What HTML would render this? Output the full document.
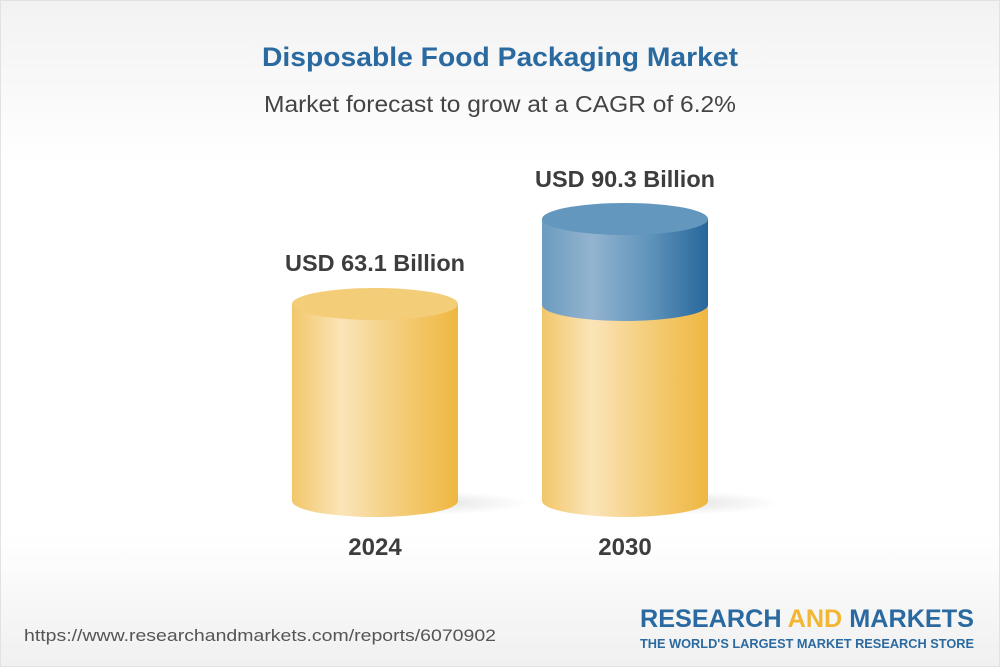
<!DOCTYPE html>
<html><head><style>
body{margin:0;width:1000px;height:667px;overflow:hidden;font-family:"Liberation Sans",Arial,sans-serif}
</style></head><body>
<svg width="1000" height="667" viewBox="0 0 1000 667" xmlns="http://www.w3.org/2000/svg">
<defs>
<linearGradient id="bg" x1="0" y1="0" x2="0" y2="1">
<stop offset="0" stop-color="#f2f2f2"/><stop offset="0.25" stop-color="#ffffff"/><stop offset="0.8" stop-color="#ffffff"/><stop offset="1" stop-color="#f0f0f0"/>
</linearGradient>
<linearGradient id="gold" x1="0" y1="0" x2="1" y2="0">
<stop offset="0" stop-color="#f2c76a"/><stop offset="0.3" stop-color="#fae4b8"/><stop offset="0.65" stop-color="#f4cc78"/><stop offset="1" stop-color="#efb740"/>
</linearGradient>
<linearGradient id="blue" x1="0" y1="0" x2="1" y2="0">
<stop offset="0" stop-color="#6b9bc0"/><stop offset="0.3" stop-color="#93b4cf"/><stop offset="0.65" stop-color="#5f93bb"/><stop offset="1" stop-color="#26679b"/>
</linearGradient>
<radialGradient id="sh" cx="0.5" cy="0.5" r="0.5">
<stop offset="0" stop-color="#000" stop-opacity="0.12"/><stop offset="1" stop-color="#000" stop-opacity="0"/>
</radialGradient>
</defs>
<rect width="1000" height="667" fill="url(#bg)"/>
<rect x="0.5" y="0.5" width="999" height="666" fill="none" stroke="#e2e2e2"/>
<text x="500" y="66" text-anchor="middle" font-size="27" font-weight="bold" fill="#2a6aa0" textLength="476" lengthAdjust="spacingAndGlyphs">Disposable Food Packaging Market</text>
<text x="500" y="112" text-anchor="middle" font-size="23" fill="#444" textLength="472" lengthAdjust="spacingAndGlyphs">Market forecast to grow at a CAGR of 6.2%</text>

<ellipse cx="420" cy="503" rx="110" ry="12" fill="url(#sh)"/>
<ellipse cx="670" cy="503" rx="110" ry="12" fill="url(#sh)"/>

<path d="M292 304 V501 A83 16 0 0 0 458 501 V304 Z" fill="url(#gold)"/>
<ellipse cx="375" cy="304" rx="83" ry="16" fill="#f4cd78"/>

<path d="M542 305 V501 A83 16 0 0 0 708 501 V305 Z" fill="url(#gold)"/>
<path d="M542 219 V305 A83 16 0 0 0 708 305 V219 Z" fill="url(#blue)"/>
<ellipse cx="625" cy="219" rx="83" ry="16" fill="#6497bd"/>

<text x="375" y="271" text-anchor="middle" font-size="23" font-weight="bold" fill="#3d3d3d" textLength="180" lengthAdjust="spacingAndGlyphs">USD 63.1 Billion</text>
<text x="625" y="187" text-anchor="middle" font-size="23" font-weight="bold" fill="#3d3d3d" textLength="180" lengthAdjust="spacingAndGlyphs">USD 90.3 Billion</text>
<text x="375" y="555" text-anchor="middle" font-size="24" font-weight="bold" fill="#3d3d3d">2024</text>
<text x="625" y="555" text-anchor="middle" font-size="24" font-weight="bold" fill="#3d3d3d">2030</text>

<text x="24" y="641" font-size="17" fill="#555" textLength="472" lengthAdjust="spacingAndGlyphs">https://www.researchandmarkets.com/reports/6070902</text>
<text x="974" y="627" text-anchor="end" font-size="25" font-weight="bold" fill="#2a6aa0" textLength="334" lengthAdjust="spacingAndGlyphs">RESEARCH <tspan fill="#f2b632">AND</tspan> MARKETS</text>
<text x="974" y="648" text-anchor="end" font-size="12.5" font-weight="bold" fill="#2a6aa0" textLength="334" lengthAdjust="spacingAndGlyphs">THE WORLD'S LARGEST MARKET RESEARCH STORE</text>
</svg>
</body></html>
